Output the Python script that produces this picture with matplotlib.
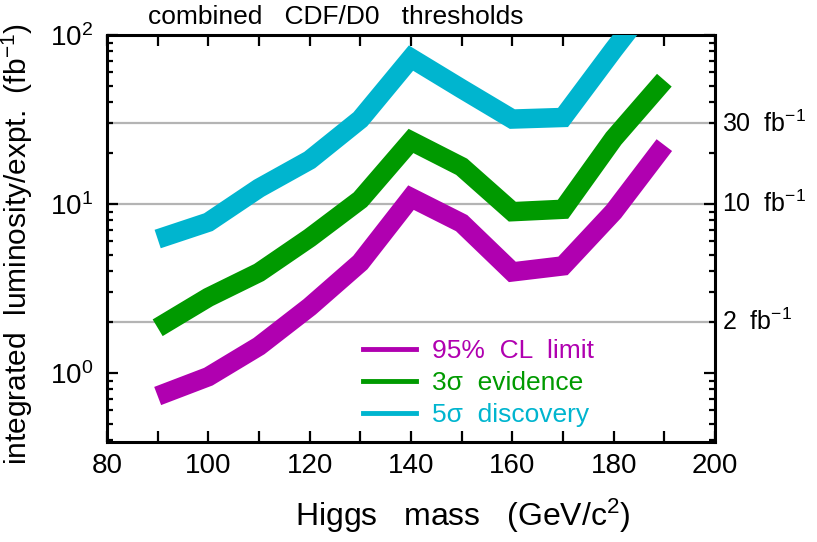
import matplotlib
matplotlib.use("Agg")
import matplotlib.pyplot as plt
import matplotlib.transforms as mtransforms
from matplotlib.lines import Line2D
from matplotlib.ticker import MultipleLocator, LogLocator, FixedLocator, FixedFormatter, NullFormatter

FONT = ["Liberation Sans", "DejaVu Sans"]
plt.rcParams['font.family'] = FONT
plt.rcParams['mathtext.fontset'] = 'custom'
plt.rcParams['mathtext.rm'] = FONT[0]
plt.rcParams['mathtext.it'] = FONT[0]
plt.rcParams['mathtext.default'] = 'regular'

# ---- data ----
higgs_mass = [90, 100, 110, 120, 130, 140, 150, 160, 170, 180, 190]
lumi_95cl = [0.73, 0.95, 1.44, 2.46, 4.5, 10.9, 7.7, 3.96, 4.3, 9.0, 22.3]
lumi_3sigma = [1.85, 2.8, 3.93, 6.3, 10.6, 23.6, 16.6, 9.0, 9.3, 24.4, 54.0]
lumi_5sigma = [6.2, 7.8, 12.4, 18.2, 31.7, 73.0, 48.0, 31.8, 32.5, 82.0, 200.0]
series_labels = ["95%  CL  limit", "3σ  evidence", "5σ  discovery"]
series_colors = ["#b000b0", "#009a00", "#00b5cf"]
ref_levels = [30, 10, 2]
ref_labels = ["30  fb$^{-1}$", "10  fb$^{-1}$", "2  fb$^{-1}$"]
x_ticks = [80, 100, 120, 140, 160, 180, 200]
y_ticks = [1, 10, 100]
y_ticklabels = ["10$^{0}$", "10$^{1}$", "10$^{2}$"]

W, H = 817, 542
fig = plt.figure(figsize=(W / 100, H / 100), dpi=100)
L, R, T, B = 107, 715, 35, 442
ax = fig.add_axes([L / W, 1 - B / H, (R - L) / W, (B - T) / H])

for lvl in ref_levels:
    ax.axhline(lvl, color="#b4b4b4", lw=1.6, zorder=1)

band_lw = 14
for ys, c in zip([lumi_95cl, lumi_3sigma, lumi_5sigma], series_colors):
    ax.plot(higgs_mass, ys, color=c, lw=band_lw, solid_capstyle="butt",
            solid_joinstyle="miter", zorder=3)

ax.set_yscale("log")
ax.set_xlim(80, 200)
ax.set_ylim(0.39, 100)

ax.xaxis.set_major_locator(FixedLocator(x_ticks))
ax.xaxis.set_minor_locator(MultipleLocator(10))
ax.yaxis.set_major_locator(FixedLocator(y_ticks))
ax.yaxis.set_major_formatter(FixedFormatter(y_ticklabels))
ax.yaxis.set_minor_locator(LogLocator(base=10, subs=range(2, 10)))
ax.yaxis.set_minor_formatter(NullFormatter())

ax.tick_params(which="both", direction="in", top=True, right=True, width=1.6,
               labelsize=20, colors="black")
ax.tick_params(axis="x", which="both", length=8, pad=8)
ax.tick_params(axis="y", which="major", length=8, pad=10)
ax.tick_params(axis="y", which="minor", length=4.5)
for s in ax.spines.values():
    s.set_linewidth(2.2)

ax.set_xlabel("Higgs   mass   (GeV/c$^{2}$)", fontsize=23)
ax.xaxis.set_label_coords(0.585, -0.135)
ax.set_ylabel("integrated  luminosity/expt.  (fb$^{-1}$)", fontsize=21.5)
ax.yaxis.set_label_coords(-0.118, 0.487)

trans = mtransforms.blended_transform_factory(ax.transAxes, ax.transData)
for lvl, lab in zip(ref_levels, ref_labels):
    ax.text(1.012, lvl, lab, transform=trans, ha="left", va="center", fontsize=18,
            clip_on=False)

fig.text(148 / W, 1 - 17 / H, "combined   CDF/D0   thresholds", fontsize=19,
         ha="left", va="center")

handles = [Line2D([], [], color=c, lw=3.5) for c in series_colors]
leg = ax.legend(handles, series_labels, loc="lower left",
                bbox_to_anchor=(0.382, -0.022), frameon=False, fontsize=19,
                handlelength=2.0, handletextpad=0.6, labelspacing=0.3,
                labelcolor=series_colors)

fig.savefig("out.png", dpi=100)
